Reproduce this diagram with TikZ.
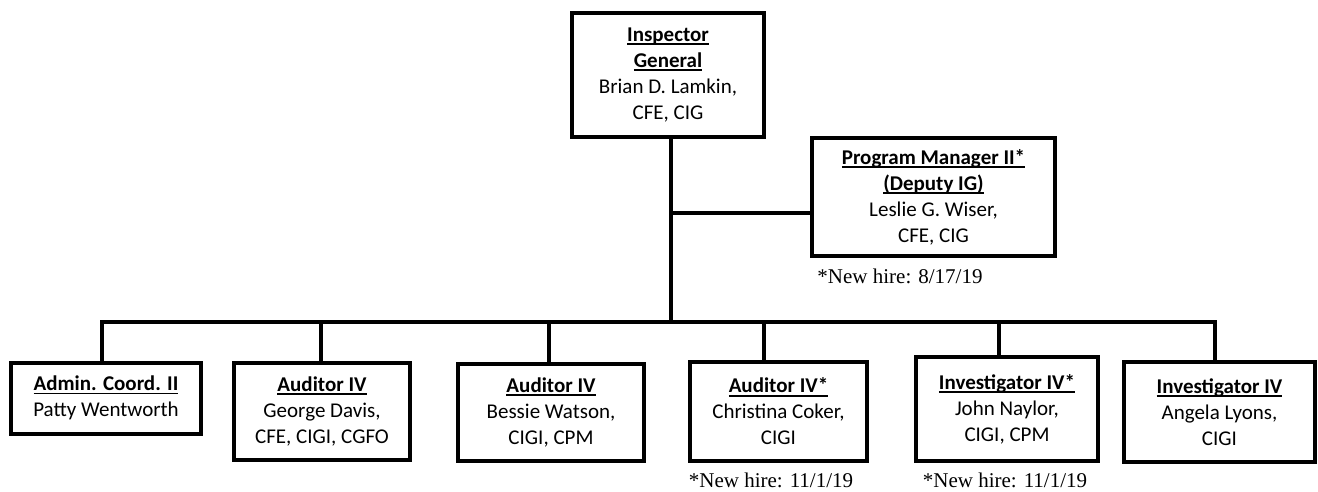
\documentclass[tikz,border=0pt]{standalone}
\usepackage{fontspec}
\setmainfont{Carlito}
\newfontfamily\notefont{Liberation Serif}
\usepackage{tikz}

% bold title with a Word-like underline
\newcommand\ttl[1]{\leavevmode\setbox0=\hbox{\bfseries #1}\rlap{\rule[-3.6pt]{\wd0}{1.7pt}}\box0}

\tikzset{
  unit/.style={draw, line width=4pt, align=center, inner sep=0pt,
    font=\fontsize{21}{26}\selectfont},
  note/.style={font=\notefont\fontsize{21}{25}\selectfont, inner sep=0pt},
  link/.style={line width=4pt}
}

\begin{document}
\begin{tikzpicture}[x=1pt,y=-1pt]
  \useasboundingbox (0,0) rectangle (1318,491);
  % top
  \node[unit, minimum width=192pt, minimum height=124pt] (ig) at (668,75)
    {\ttl{Inspector}\\ \ttl{General}\\ Brian D. Lamkin,\\ CFE, CIG};
  \node[unit, minimum width=243pt, minimum height=118pt] (pm) at (933.5,197)
    {\ttl{Program Manager II*}\\ \ttl{(Deputy IG)}\\ Leslie G. Wiser,\\ CFE, CIG};
  \node[note] (pmnote) at (900,276) {*New hire: 8/17/19};
  % staff
  \node[unit, minimum width=190pt, minimum height=71pt] (admin) at (106,398)
    {\ttl{Admin. Coord. II}\\ Patty Wentworth};
  \node[unit, minimum width=176pt, minimum height=97pt] (george) at (322,411.5)
    {\ttl{Auditor IV}\\ George Davis,\\ CFE, CIGI, CGFO};
  \node[unit, minimum width=186pt, minimum height=97pt] (bessie) at (551,412.5)
    {\ttl{Auditor IV}\\ Bessie Watson,\\ CIGI, CPM};
  \node[unit, minimum width=177pt, minimum height=99pt] (chris) at (778.5,411.5)
    {\ttl{Auditor IV*}\\ Christina Coker,\\ CIGI};
  \node[unit, minimum width=182pt, minimum height=104pt] (john) at (1007,409)
    {\ttl{Investigator IV*}\\ John Naylor,\\ CIGI, CPM};
  \node[unit, minimum width=191pt, minimum height=100pt] (angela) at (1219.5,412)
    {\ttl{Investigator IV}\\ Angela Lyons,\\ CIGI};
  \node[note] (chrisnote) at (771,480.5) {*New hire: 11/1/19};
  \node[note] (johnnote) at (1005,480.5) {*New hire: 11/1/19};

  % junctions
  \coordinate (j0) at (671,213);
  \coordinate (bc) at (671,322);
  \coordinate (b1) at (102,322);
  \coordinate (b2) at (321,322);
  \coordinate (b3) at (549,322);
  \coordinate (b4) at (764,322);
  \coordinate (b5) at (999,322);
  \coordinate (b6) at (1215,322);

  \draw[link] (j0 |- ig.south) -- (bc);
  \draw[link] (j0) -- (j0 -| pm.west);
  \draw[link] (b1 |- admin.north) -- (b1) -- (b6) -- (b6 |- angela.north);
  \foreach \b/\n in {b2/george,b3/bessie,b4/chris,b5/john}
    \draw[link] (\b) -- (\b |- \n.north);
\end{tikzpicture}
\end{document}
